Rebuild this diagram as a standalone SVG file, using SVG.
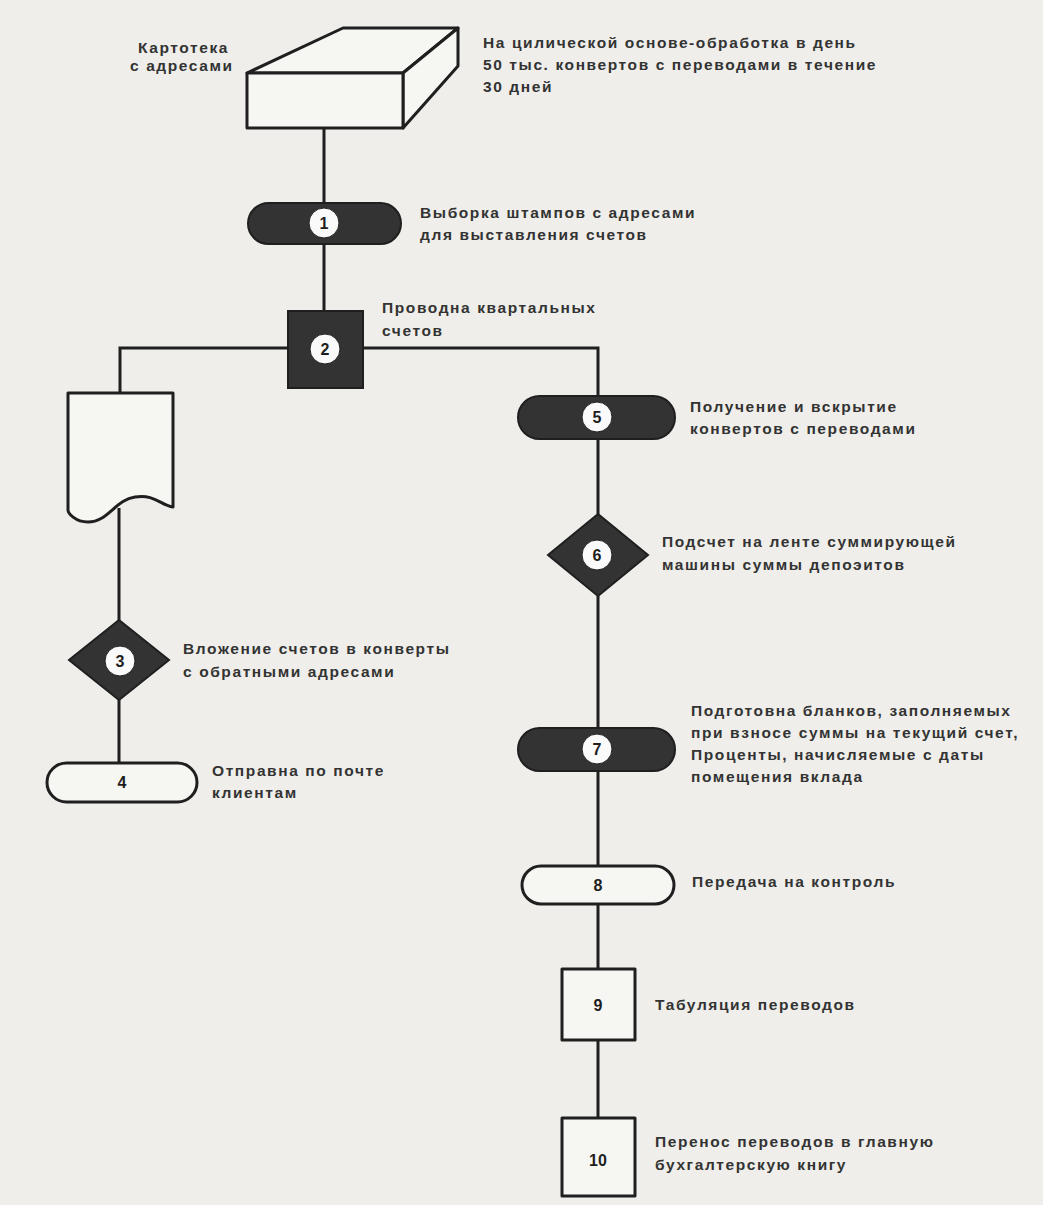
<svg xmlns="http://www.w3.org/2000/svg" width="1043" height="1205" viewBox="0 0 1043 1205">
  <style>
    .lbl { font-family: "Liberation Sans", Arial, sans-serif; font-size: 15.5px; font-weight: 700; letter-spacing: 1.6px; fill: #333333; }
    .num { font-family: "Liberation Sans", Arial, sans-serif; font-size: 16px; font-weight: 700; fill: #1e1e1e; text-anchor: middle; }
    .wire { fill: none; stroke: #1f1f1f; stroke-width: 3; }
    .dark { fill: #333333; stroke: #1f1f1f; stroke-width: 2; }
    .open { fill: #f6f6f3; stroke: #1f1f1f; stroke-width: 3; stroke-linejoin: round; }
    .badge { fill: #fafafa; stroke: #222; stroke-width: 1; }
  </style>

  <rect width="1043" height="1205" fill="#efeeea"/>

  <!-- connectors -->
  <g id="connectors" class="wire">
    <path d="M324 128 V204"/>
    <path d="M324 243 V311"/>
    <path d="M288 348 H120 V393"/>
    <path d="M362 348 H598 V396"/>
    <path d="M119 508 V620"/>
    <path d="M119 700 V763"/>
    <path d="M598 439 V514"/>
    <path d="M598 596 V728"/>
    <path d="M598 771 V866"/>
    <path d="M598 904 V969"/>
    <path d="M598 1040 V1118"/>
  </g>

  <!-- card file drawn as a box in perspective -->
  <g id="cardfile">
    <path class="open" d="M247 73 L343 28 H458 L403 73 Z"/>
    <path class="open" d="M403 73 L458 28 V66 L403 128 Z"/>
    <rect class="open" x="247" y="73" width="156" height="55"/>
    <text class="lbl" x="138" y="53">Картотека</text>
    <text class="lbl" x="130" y="71">с адресами</text>
    <text class="lbl" x="483" y="48">На цилической основе-обработка в день</text>
    <text class="lbl" x="483" y="70">50 тыс. конвертов с переводами в течение</text>
    <text class="lbl" x="483" y="92">30 дней</text>
  </g>

  <g id="n1">
    <rect class="dark" x="248" y="203" width="153" height="41" rx="20.5"/>
    <circle class="badge" cx="324" cy="223" r="15"/>
    <text class="num" x="324" y="229">1</text>
    <text class="lbl" x="420" y="218">Выборка штампов с адресами</text>
    <text class="lbl" x="420" y="240">для выставления счетов</text>
  </g>

  <g id="n2">
    <rect class="dark" x="288" y="311" width="75" height="77"/>
    <circle class="badge" cx="325" cy="349" r="15"/>
    <text class="num" x="325" y="355">2</text>
    <text class="lbl" x="382" y="313">Проводна квартальных</text>
    <text class="lbl" x="382" y="336">счетов</text>
  </g>

  <g id="document">
    <path class="open" d="M68 393 H173 V507 C160 505 155 494 135 497 C115 500 108 522 88 522 C75 522 68 513 68 510 Z"/>
  </g>

  <g id="n3">
    <path class="dark" d="M119 620 L169 660 L119 700 L69 660 Z"/>
    <circle class="badge" cx="120" cy="661" r="15"/>
    <text class="num" x="120" y="667">3</text>
    <text class="lbl" x="183" y="654">Вложение счетов в конверты</text>
    <text class="lbl" x="183" y="677">с обратными адресами</text>
  </g>

  <g id="n4">
    <rect class="open" x="47" y="763" width="150" height="39" rx="19.5"/>
    <text class="num" x="122" y="788">4</text>
    <text class="lbl" x="212" y="776">Отправна по почте</text>
    <text class="lbl" x="212" y="798">клиентам</text>
  </g>

  <g id="n5">
    <rect class="dark" x="518" y="396" width="157" height="43" rx="21.5"/>
    <circle class="badge" cx="597" cy="417" r="15"/>
    <text class="num" x="597" y="423">5</text>
    <text class="lbl" x="690" y="412">Получение и вскрытие</text>
    <text class="lbl" x="690" y="434">конвертов с переводами</text>
  </g>

  <g id="n6">
    <path class="dark" d="M598 514 L648 555 L598 596 L548 555 Z"/>
    <circle class="badge" cx="597" cy="555" r="15"/>
    <text class="num" x="597" y="561">6</text>
    <text class="lbl" x="662" y="547">Подсчет на ленте суммирующей</text>
    <text class="lbl" x="662" y="570">машины суммы депоэитов</text>
  </g>

  <g id="n7">
    <rect class="dark" x="518" y="728" width="157" height="43" rx="21.5"/>
    <circle class="badge" cx="597" cy="749" r="15"/>
    <text class="num" x="597" y="755">7</text>
    <text class="lbl" x="691" y="716">Подготовна бланков, заполняемых</text>
    <text class="lbl" x="691" y="738">при взносе суммы на текущий счет,</text>
    <text class="lbl" x="691" y="760">Проценты, начисляемые с даты</text>
    <text class="lbl" x="691" y="782">помещения вклада</text>
  </g>

  <g id="n8">
    <rect class="open" x="522" y="866" width="152" height="38" rx="19"/>
    <text class="num" x="598" y="891">8</text>
    <text class="lbl" x="692" y="887">Передача на контроль</text>
  </g>

  <g id="n9">
    <rect class="open" x="562" y="969" width="73" height="71"/>
    <text class="num" x="598" y="1011">9</text>
    <text class="lbl" x="655" y="1010">Табуляция переводов</text>
  </g>

  <g id="n10">
    <rect class="open" x="562" y="1118" width="73" height="78"/>
    <text class="num" x="598" y="1166">10</text>
    <text class="lbl" x="655" y="1147">Перенос переводов в главную</text>
    <text class="lbl" x="655" y="1170">бухгалтерскую книгу</text>
  </g>
</svg>
